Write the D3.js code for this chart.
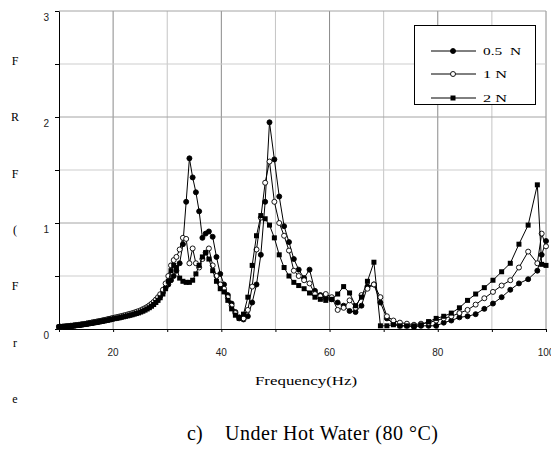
<!DOCTYPE html>
<head>
<meta charset="utf-8">
<style>
    body { margin: 0; background: #fff; }
    text.serif { font-family: "Liberation Serif", "Times New Roman", serif; fill: #000; }
    text.tick { font-family: "Liberation Sans", Arial, sans-serif; font-size: 10px; fill: #222; }
</style>
<script src="https://d3js.org/d3.v7.min.js"></script>
</head>
<body>
<script>
// frequency grid (Hz), shared by the three load cases
var freq = [10, 10.3, 10.6, 10.9, 11.2, 11.5, 11.8, 12.1, 12.4, 12.7, 13, 13.3, 13.6, 13.9, 14.2, 14.5, 14.8,
    15.1, 15.4, 15.7, 16, 16.3, 16.6, 16.9, 17.2, 17.5, 17.8, 18.1, 18.4, 18.7, 19, 19.3, 19.6, 19.9,
    20.3, 20.7, 21.1, 21.5, 21.9, 22.3, 22.7, 23.1, 23.5, 23.9, 24.3, 24.7, 25.1, 25.5, 25.9, 26.3,
    26.7, 27.1, 27.5, 27.9, 28.3, 28.7, 29.2, 29.7,
    30.2, 30.7, 31.2, 31.7, 32.3, 32.9, 33.5, 34.1, 34.7, 35.3, 35.9, 36.5, 37.1, 37.7, 38.4, 39.1, 39.8,
    40.5, 41.2, 41.9, 42.6, 43.3, 44.1, 44.9, 45.7, 46.5, 47.3, 48.1, 48.9, 49.8, 50.7, 51.6, 52.5,
    53.4, 54.3, 55.3,
    56.3, 57.3, 58.3, 59.3, 60.4, 61.5, 62.6, 63.7, 64.8, 65.9, 67.0, 68.2, 69.4, 70.6, 71.8, 73.0,
    74.3, 75.6, 76.9,
    78.3, 79.7, 81.1, 82.5, 84.0, 85.5, 87.0, 88.6, 90.2, 91.8, 93.4, 95.0, 96.7, 98.4, 99.2, 100];

// FRF values
var frf05 = [0.02, 0.02, 0.021, 0.022, 0.024, 0.025, 0.027, 0.029, 0.03, 0.032, 0.034, 0.036, 0.038, 0.04, 0.042, 0.045, 0.047,
    0.05, 0.052, 0.055, 0.058, 0.061, 0.063, 0.066, 0.069, 0.072, 0.075, 0.078, 0.081, 0.084, 0.088, 0.091, 0.095, 0.099,
    0.103, 0.107, 0.111, 0.116, 0.121, 0.126, 0.131, 0.136, 0.141, 0.147, 0.153, 0.16, 0.168, 0.177, 0.187, 0.198,
    0.211, 0.226, 0.243, 0.262, 0.285, 0.31, 0.345, 0.39,
    0.42, 0.46, 0.5, 0.55, 0.62, 0.8, 1.2, 1.61, 1.43, 1.29, 1.11, 0.86, 0.9, 0.92, 0.87, 0.68, 0.52,
    0.42, 0.32, 0.24, 0.16, 0.11, 0.09, 0.12, 0.25, 0.42, 0.7, 1.2, 1.95, 1.6, 1.25, 0.97, 0.82,
    0.66, 0.56, 0.48,
    0.56, 0.36, 0.32, 0.3, 0.28, 0.25, 0.22, 0.17, 0.16, 0.22, 0.4, 0.42, 0.25, 0.1, 0.05, 0.03,
    0.03, 0.02, 0.03,
    0.03, 0.03, 0.06, 0.08, 0.11, 0.12, 0.14, 0.19, 0.24, 0.3, 0.37, 0.43, 0.47, 0.55, 0.7, 0.83];

var frf1 = [0.02, 0.021, 0.022, 0.023, 0.025, 0.026, 0.028, 0.03, 0.031, 0.033, 0.035, 0.037, 0.039, 0.041, 0.044, 0.046, 0.049,
    0.051, 0.054, 0.057, 0.06, 0.063, 0.066, 0.069, 0.072, 0.075, 0.078, 0.081, 0.085, 0.088, 0.092, 0.095, 0.099, 0.103,
    0.108, 0.112, 0.117, 0.122, 0.127, 0.132, 0.138, 0.143, 0.149, 0.155, 0.162, 0.169, 0.177, 0.187, 0.197, 0.209,
    0.223, 0.238, 0.256, 0.277, 0.3, 0.328, 0.37, 0.43,
    0.5, 0.6, 0.65, 0.68, 0.75, 0.86, 0.85, 0.62, 0.76, 0.62, 0.58, 0.66, 0.72, 0.76, 0.6, 0.5, 0.42,
    0.38, 0.3, 0.22, 0.15, 0.1, 0.1, 0.18, 0.4, 0.75, 1.05, 1.38, 1.58, 1.2, 1.0, 0.88, 0.74,
    0.55, 0.5, 0.46,
    0.43, 0.33, 0.31, 0.33, 0.3, 0.18, 0.2, 0.27, 0.2, 0.32, 0.38, 0.42, 0.3, 0.12, 0.08, 0.06,
    0.05, 0.04, 0.05,
    0.06, 0.08, 0.1, 0.12, 0.15, 0.18, 0.23, 0.29, 0.35, 0.41, 0.46, 0.58, 0.73, 0.62, 0.9, 0.78];

var frf2 = [0.019, 0.02, 0.02, 0.021, 0.022, 0.024, 0.025, 0.027, 0.028, 0.03, 0.032, 0.034, 0.035, 0.037, 0.04, 0.042, 0.044,
    0.047, 0.049, 0.052, 0.054, 0.057, 0.06, 0.062, 0.065, 0.068, 0.071, 0.074, 0.077, 0.08, 0.083, 0.086, 0.09, 0.094,
    0.098, 0.101, 0.105, 0.11, 0.115, 0.12, 0.124, 0.129, 0.134, 0.14, 0.146, 0.152, 0.16, 0.168, 0.178, 0.189,
    0.201, 0.215, 0.231, 0.25, 0.27, 0.295, 0.33, 0.38,
    0.45, 0.55, 0.6, 0.58, 0.48, 0.45, 0.44, 0.44, 0.46, 0.52, 0.6, 0.68, 0.72, 0.66, 0.55, 0.45, 0.38,
    0.35, 0.27, 0.19, 0.13, 0.1, 0.14, 0.3, 0.6, 0.88, 1.07, 1.04, 0.98, 0.86, 0.7, 0.58, 0.5,
    0.44, 0.41, 0.38,
    0.34, 0.3, 0.28, 0.27, 0.28, 0.33, 0.4, 0.34, 0.22, 0.3, 0.45, 0.63, 0.03, 0.03, 0.04, 0.03,
    0.03, 0.03, 0.04,
    0.07, 0.1, 0.12, 0.15, 0.2, 0.27, 0.33, 0.39, 0.46, 0.54, 0.62, 0.8, 0.98, 1.36, 0.61, 0.6];

var seriesNames = ["0.5  N", "1 N", "2 N"];
var seriesMarkers = ["dot", "ring", "square"];
var xTicks = [20, 40, 60, 80, 100];
var yTicks = [0, 1, 2, 3];
var xGrid = [20, 30, 40, 50, 60, 70, 80, 90, 100];
var yGrid = [0.5, 1, 1.5, 2, 2.5, 3];
var yTitleChars = ["F", "R", "F", "(", "F", "r", "e"];

var plotL = 59, plotR = 546, plotT = 11, plotB = 329;

var x = d3.scaleLinear().domain([10, 100]).range([plotL, plotR]);
var y = d3.scaleLinear().domain([0, 3]).range([plotB, plotT]);

var svg = d3.select("body").append("svg")
    .attr("width", 551)
    .attr("height", 450);

// gridlines (major darker, minor lighter)
svg.selectAll("line.gx")
    .data(xGrid)
    .enter().append("line")
    .attr("x1", function(d) { return x(d); })
    .attr("x2", function(d) { return x(d); })
    .attr("y1", plotT).attr("y2", plotB)
    .attr("stroke", function(d) { return d % 20 == 0 ? "#8a8a8a" : "#c4c4c4"; });

svg.selectAll("line.gy")
    .data(yGrid)
    .enter().append("line")
    .attr("x1", plotL).attr("x2", plotR)
    .attr("y1", function(d) { return y(d); })
    .attr("y2", function(d) { return y(d); })
    .attr("stroke", function(d) { return d % 1 == 0 ? "#a4a4a4" : "#cdcdcd"; });

// axes
svg.append("g")
    .attr("class", "axis")
    .attr("transform", "translate(" + plotL + ",0)")
    .call(d3.axisLeft(y).tickValues(d3.range(0, 3.01, 0.5)).tickSize(4).tickSizeOuter(0).tickFormat(""));
svg.append("g")
    .attr("class", "axis")
    .attr("transform", "translate(0," + plotB + ")")
    .call(d3.axisBottom(x).tickValues([10].concat(xGrid)).tickSize(3).tickSizeOuter(0).tickFormat(""));

svg.selectAll("text.ytick")
    .data(yTicks)
    .enter().append("text")
    .attr("class", "tick")
    .attr("x", plotL - 10)
    .attr("y", function(d) { return y(d) + 10; })
    .attr("text-anchor", "end")
    .text(function(d) { return d; });

svg.selectAll("text.xtick")
    .data(xTicks)
    .enter().append("text")
    .attr("class", "tick")
    .attr("x", function(d) { return x(d); })
    .attr("y", plotB + 27)
    .attr("text-anchor", "middle")
    .text(function(d) { return d; });

// series
var allSeries = [frf05, frf1, frf2];
var lineGen = d3.line()
    .x(function(d) { return x(d[0]); })
    .y(function(d) { return y(d[1]); });

function drawMarker(g, kind, px, py) {
    if (kind == "square") {
        g.append("rect")
            .attr("x", px - 2.5).attr("y", py - 2.5)
            .attr("width", 5).attr("height", 5)
            .attr("fill", "#000");
    } else {
        g.append("circle")
            .attr("cx", px).attr("cy", py)
            .attr("r", 2.5)
            .attr("fill", kind == "ring" ? "#fff" : "#000")
            .attr("stroke", "#000")
            .attr("stroke-width", 0.9);
    }
}

allSeries.forEach(function(vals, i) {
    var pts = freq.map(function(f, j) { return [f, vals[j]]; });
    var g = svg.append("g");
    g.append("path")
        .datum(pts)
        .attr("fill", "none")
        .attr("stroke", "#000")
        .attr("stroke-width", 1)
        .attr("d", lineGen);
    pts.forEach(function(p) { drawMarker(g, seriesMarkers[i], x(p[0]), y(p[1])); });
});

// legend
var lg = svg.append("g");
lg.append("rect")
    .attr("x", 414.5).attr("y", 25.5)
    .attr("width", 121).attr("height", 79)
    .attr("fill", "#fff")
    .attr("stroke", "#000");
var rowY = [51, 74, 98];
seriesNames.forEach(function(name, i) {
    lg.append("line")
        .attr("x1", 431).attr("x2", 476)
        .attr("y1", rowY[i]).attr("y2", rowY[i])
        .attr("stroke", "#000");
    drawMarker(lg, seriesMarkers[i], 453, rowY[i]);
    lg.append("text")
        .attr("class", "serif")
        .attr("x", 483)
        .attr("y", rowY[i] + 4)
        .attr("font-size", 11)
        .attr("textLength", i == 0 ? 38 : 24)
        .attr("lengthAdjust", "spacingAndGlyphs")
        .style("white-space", "pre")
        .text(name);
});

// axis titles
svg.selectAll("text.ytitle")
    .data(yTitleChars)
    .enter().append("text")
    .attr("class", "serif")
    .attr("x", 15)
    .attr("y", function(d, i) { return 65 + i * 56.3; })
    .attr("text-anchor", "middle")
    .attr("font-size", 12)
    .text(function(d) { return d; });

svg.append("text")
    .attr("class", "serif")
    .attr("x", 255)
    .attr("y", 385)
    .attr("font-size", 13)
    .attr("textLength", 102)
    .attr("lengthAdjust", "spacingAndGlyphs")
    .text("Frequency(Hz)");

svg.append("text")
    .attr("class", "serif")
    .attr("x", 187)
    .attr("y", 440)
    .attr("font-size", 20)
    .text("c)");
svg.append("text")
    .attr("class", "serif")
    .attr("x", 225)
    .attr("y", 440)
    .attr("font-size", 20)
    .attr("textLength", 213)
    .text("Under Hot Water (80 °C)");
</script>
</body>
